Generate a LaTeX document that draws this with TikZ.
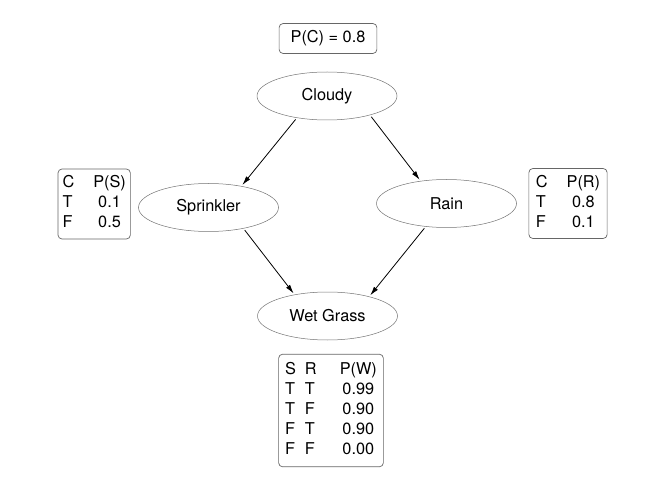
\documentclass[tikz,border=0pt]{standalone}
\usepackage{fontspec}
\setmainfont{TeX Gyre Heros}
\usetikzlibrary{shapes.geometric,arrows.meta}
\begin{document}
\begin{tikzpicture}[x=1pt,y=-1pt,
        font=\fontsize{16.3}{20}\selectfont,
        var/.style={ellipse,draw=black!55,line width=0.5pt,minimum width=140pt,minimum height=48pt,inner sep=0pt},
        cpt/.style={draw=black!60,line width=0.7pt,rounded corners=4pt,inner xsep=5pt,inner ysep=5pt},
        edge/.style={-{Latex[length=9pt,width=5pt]},line width=0.8pt,shorten <=2pt,shorten >=1.5pt}]
    \useasboundingbox (0,0) rectangle (664,497);
    % variables
    \node[var] (cloudy) at (327,96) {Cloudy};
    \node[var] (sprinkler) at (208.5,207.5) {Sprinkler};
    \node[var] (rain) at (446.5,203.5) {Rain};
    \node[var] (wet) at (327.5,316) {Wet Grass};
    % tables
    \node[cpt,inner xsep=11.5pt] (pc) at (328,38.5) {\strut P(C) = 0.8};
    \node[cpt,inner xsep=4.5pt] (ps) at (94.2,204) {\begin{tabular}{@{}l@{\hspace{19pt}}c@{}}C & P(S)\\ T & 0.1\\ F & 0.5\end{tabular}};
    \node[cpt,inner xsep=7pt] (pr) at (568,203.5) {\begin{tabular}{@{}l@{\hspace{19pt}}c@{}}C & P(R)\\ T & 0.8\\ F & 0.1\end{tabular}};
    \node[cpt,inner xsep=6.5pt,inner ysep=6.3pt] (pw) at (331,410.5) {\begin{tabular}{@{}l@{\hspace{9pt}}l@{\hspace{23pt}}c@{}}S & R & P(W)\\ T & T & 0.99\\ T & F & 0.90\\ F & T & 0.90\\ F & F & 0.00\end{tabular}};
    % arrows
    \draw[edge] (cloudy.216) -- (sprinkler.33);
    \draw[edge] (cloudy.336) -- (rain.139);
    \draw[edge] (sprinkler.329) -- (wet.147);
    \draw[edge] (rain.228) -- (wet.25);
\end{tikzpicture}
\end{document}
